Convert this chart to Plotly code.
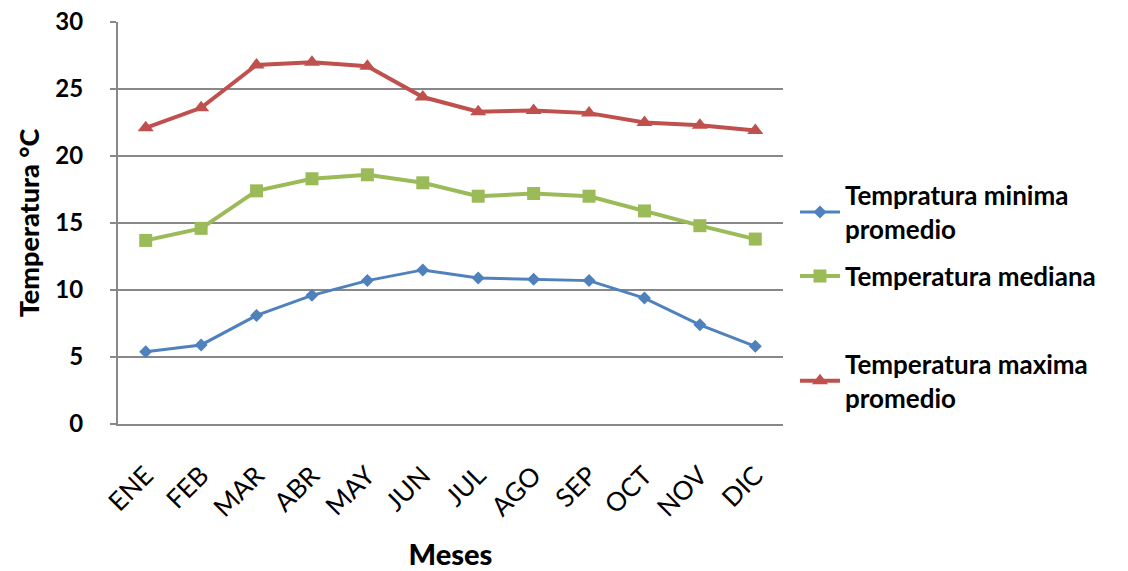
import plotly.graph_objects as go

meses = ["ENE", "FEB", "MAR", "ABR", "MAY", "JUN", "JUL", "AGO", "SEP", "OCT", "NOV", "DIC"]
t_min = [5.4, 5.9, 8.1, 9.6, 10.7, 11.5, 10.9, 10.8, 10.7, 9.4, 7.4, 5.8]
t_med = [13.7, 14.6, 17.4, 18.3, 18.6, 18.0, 17.0, 17.2, 17.0, 15.9, 14.8, 13.8]
t_max = [22.1, 23.6, 26.8, 27.0, 26.7, 24.4, 23.3, 23.4, 23.2, 22.5, 22.3, 21.9]
y_ticks = [0, 5, 10, 15, 20, 25, 30]

series = [
    ("Tempratura minima<br>promedio", t_min, "#4f81bd", "diamond", 10, 3, 0.527),
    ("Temperatura mediana", t_med, "#9bbb59", "square", 13, 4, 0.368),
    ("Temperatura maxima<br>promedio", t_max, "#c0504d", "triangle-up", 14, 4, 0.107),
]

font_fam = "Lato, 'Open Sans', sans-serif"
fig = go.Figure()
x = list(range(len(meses)))
legend_layouts = {}
for i, (name, vals, color, sym, size, lw, ly) in enumerate(series):
    lname = "legend" if i == 0 else f"legend{i + 1}"
    fig.add_trace(go.Scatter(
        x=x, y=vals, name=name, mode="lines+markers",
        line=dict(color=color, width=lw),
        marker=dict(symbol=sym, size=size, color=color),
        legend=lname,
    ))
    legend_layouts[lname] = dict(
        x=1.018, y=ly, xanchor="left", yanchor="middle",
        font=dict(size=26, family=font_fam, color="black", weight="bold"),
        itemwidth=40, bgcolor="rgba(0,0,0,0)",
    )

fig.update_layout(
    width=1128, height=571,
    margin=dict(l=118, r=345, t=22, b=147),
    plot_bgcolor="white", paper_bgcolor="white",
    font=dict(family=font_fam, color="black"),
    showlegend=True,
    xaxis=dict(
        tickmode="array", tickvals=x, ticktext=meses,
        range=[-0.5, 11.5], tickangle=-45,
        tickfont=dict(size=26, family=font_fam),
        ticklabelstandoff=24,
        showgrid=False, showline=True, linecolor="#888888", linewidth=2,
        title=dict(text="Meses", font=dict(size=29, family=font_fam, weight=900), standoff=28),
        zeroline=False, automargin=False,
    ),
    yaxis=dict(
        range=[0, 30], tickvals=y_ticks,
        tickfont=dict(size=24, family=font_fam, weight="bold"),
        showgrid=True, gridcolor="#888888", gridwidth=2,
        showline=True, linecolor="#888888", linewidth=2,
        ticks="outside", ticklen=6, tickcolor="#888888", tickwidth=2,
        ticklabelstandoff=22,
        title=dict(text="Temperatura °C", font=dict(size=27, family=font_fam, weight=900), standoff=8),
        zeroline=False, automargin=False,
    ),
    **legend_layouts,
)

fig.write_html(
    "out.html",
    config={"displayModeBar": False},
    post_script="document.body.style.margin='0px';document.body.style.overflow='hidden';",
)
